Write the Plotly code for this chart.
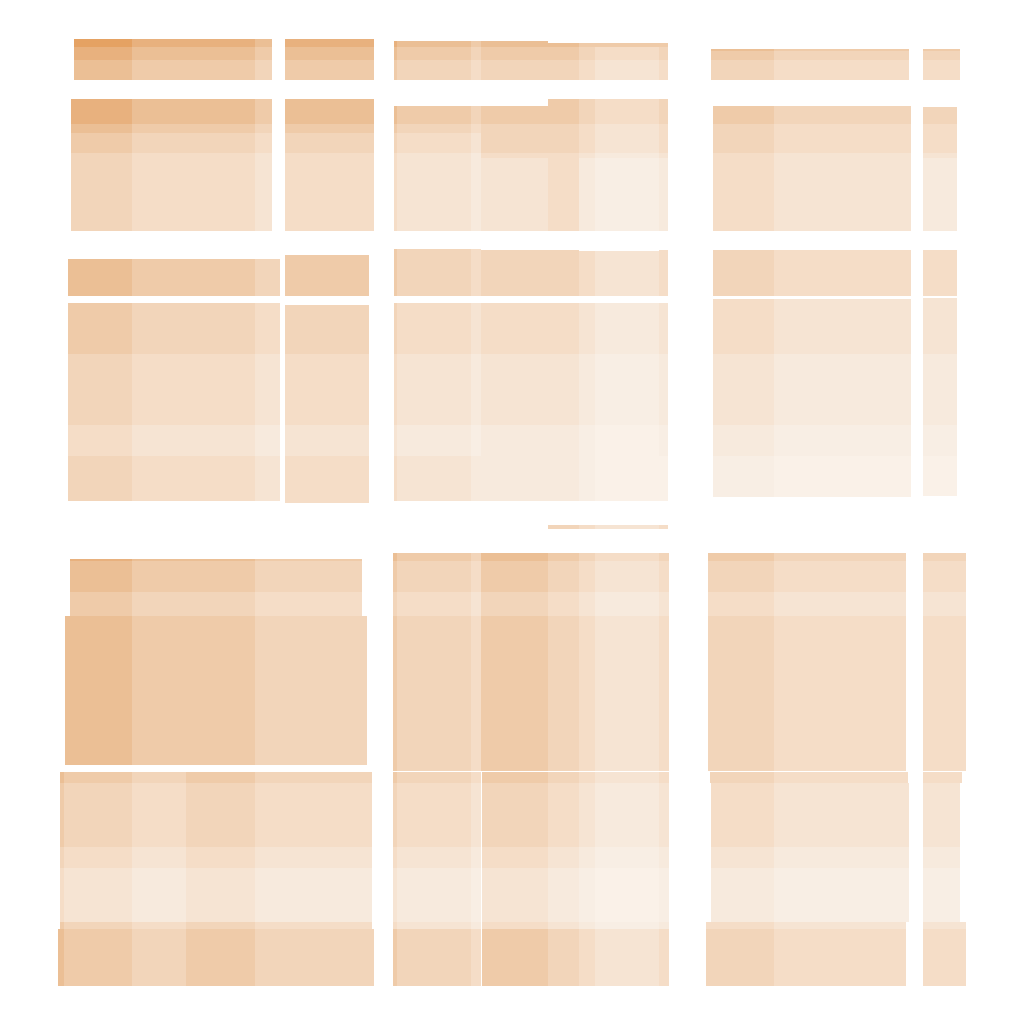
import plotly.graph_objects as go

N = None

# Shade levels (1 = lightest, 10 = darkest) and their colours
level_colors = ["#FAF1E8", "#F8EEE4", "#F7EADD", "#F6E4D3", "#F5DDC7",
                "#F2D5BA", "#EFCBA9", "#EBBF95", "#E8B17E", "#E5A263"]

# Shared column edges of the middle group
mid_x = [394, 397, 471, 481, 548, 579, 595, 659, 668]

# ---- row 1
tl1_x = [74, 132, 255, 272]; tl1_y = [39, 47, 60, 80]
tl1_z = [[10, 9, 8], [9, 8, 7], [8, 7, 6]]
tl2_x = [285, 374]; tl2_y = [39, 47, 60, 80]
tl2_z = [[9], [8], [7]]
tm_y = [41, 43, 47, 60, 80]
tm_z = [[9, 8, 7, 8, N, N, N, N],
        [9, 8, 7, 8, 8, 7, 7, 7],
        [8, 7, 6, 7, 7, 6, 5, 6],
        [7, 6, 5, 6, 6, 5, 4, 5]]
tr1_x = [711, 774, 909]; tr1_y = [49, 51, 60, 80]
tr1_z = [[8, 7], [7, 6], [6, 5]]
tr2_x = [923, 960]; tr2_y = [49, 51, 60, 80]
tr2_z = [[7], [6], [5]]

# ---- row 2
ml1_x = [71, 132, 255, 272]; ml1_y = [99, 124, 133, 153, 231]
ml1_z = [[9, 8, 7], [8, 7, 6], [7, 6, 5], [6, 5, 4]]
ml2_x = [285, 374]; ml2_y = [99, 124, 133, 153, 231]
ml2_z = [[8], [7], [6], [5]]
mm_y = [99, 106, 124, 133, 153, 158, 231]
mm_z = [[N, N, N, N, 7, 6, 5, 6],
        [8, 7, 6, 7, 7, 6, 5, 6],
        [7, 6, 5, 6, 6, 5, 4, 5],
        [6, 5, 4, 6, 6, 5, 4, 5],
        [5, 4, 3, 5, 5, 4, 3, 4],
        [5, 4, 3, 4, 5, 3, 2, 3]]
mr1_x = [713, 774, 911]; mr1_y = [106, 124, 153, 231]
mr1_z = [[7, 6], [6, 5], [5, 4]]
mr2_x = [923, 957]; mr2_y = [107, 124, 153, 158, 231]
mr2_z = [[6], [5], [4], [3]]

# ---- row 3
ll1_x = [68, 132, 255, 280]; ll1_y = [259, 296]
ll1_z = [[8, 7, 6]]
ll2_x = [285, 369]; ll2_y = [255, 296]
ll2_z = [[7]]
lm_y = [249, 250, 251, 296]
lm_z = [[7, 6, 5, N, N, N, N, N],
        [7, 6, 5, 6, 6, N, N, 5],
        [7, 6, 5, 6, 6, 5, 4, 5]]
lr1_x = [713, 774, 911]; lr1_y = [250, 296]
lr1_z = [[6, 5]]
lr2_x = [923, 957]; lr2_y = [250, 296]
lr2_z = [[5]]

# ---- row 4
ql1_x = [68, 132, 255, 280]; ql1_y = [303, 354, 425, 456, 501]
ql1_z = [[7, 6, 5], [6, 5, 4], [5, 4, 3], [6, 5, 4]]
ql2_x = [285, 369]; ql2_y = [305, 354, 425, 456, 503]
ql2_z = [[6], [5], [4], [5]]
qm_y = [303, 354, 425, 456, 501]
qm_z = [[6, 5, 4, 5, 5, 4, 3, 4],
        [5, 4, 3, 4, 4, 3, 2, 3],
        [4, 3, 2, 3, 3, 2, 1, 2],
        [5, 4, 3, 3, 3, 2, 1, 1]]
qr1_x = [713, 774, 911]; qr1_y = [299, 354, 425, 456, 497]
qr1_z = [[5, 4], [4, 3], [3, 2], [2, 1]]
qr2_x = [923, 957]; qr2_y = [298, 354, 425, 456, 496]
qr2_z = [[4], [3], [2], [1]]

# thin strip
st_x = [548, 579, 595, 659, 668]; st_y = [525, 529]
st_z = [[6, 5, 4, 5]]

# ---- row 5
hl1_x = [70, 132, 255, 362]; hl1_y = [559, 561, 592, 616]
hl1_z = [[9, 8, 7], [8, 7, 6], [7, 6, 5]]
hl2_x = [65, 132, 255, 367]; hl2_y = [616, 765]
hl2_z = [[8, 7, 6]]
hm_x = [393, 397, 471, 481, 548, 579, 595, 659, 669]
hm_y = [553, 561, 592, 616, 771]
hm_z = [[8, 7, 6, 8, 7, 6, 5, 6],
        [7, 6, 5, 7, 6, 5, 4, 5],
        [6, 5, 4, 6, 5, 4, 3, 4],
        [7, 6, 5, 7, 6, 5, 4, 5]]
hr1_x = [708, 774, 906]; hr1_y = [553, 561, 592, 616, 771]
hr1_z = [[7, 6], [6, 5], [5, 4], [6, 5]]
hr2_x = [923, 966]; hr2_y = [553, 561, 592, 616, 771]
hr2_z = [[6], [5], [4], [5]]

# ---- row 6
bl1_x = [60, 64, 132, 186, 255, 372]; bl1_y = [772, 783, 847, 868, 922, 929]
bl1_z = [[8, 7, 6, 7, 6], [7, 6, 5, 6, 5], [6, 5, 4, 5, 4],
         [5, 4, 3, 4, 3], [7, 6, 5, 6, 5]]
bl2_x = [58, 64, 132, 186, 255, 374]; bl2_y = [929, 986]
bl2_z = [[8, 7, 6, 7, 6]]
bm_x = [393, 397, 471, 481, 482, 548, 579, 595, 659, 669]
bm_y = [772, 783, 847, 868, 922, 929, 986]
bm_z = [[7, 6, 5, N, 7, 6, 5, 4, 5],
        [6, 5, 4, N, 6, 5, 4, 3, 4],
        [5, 4, 3, N, 5, 4, 3, 2, 3],
        [4, 3, 2, N, 4, 3, 2, 1, 2],
        [5, 4, 3, N, 5, 4, 3, 2, 3],
        [7, 6, 5, N, 7, 6, 5, 4, 5]]
br1_x = [710, 774, 908]; br1_y = [772, 783]
br1_z = [[6, 5]]
br2_x = [923, 962]; br2_y = [772, 783]
br2_z = [[5]]
br3_x = [711, 774, 909]; br3_y = [783, 847, 868, 922]
br3_z = [[5, 4], [4, 3], [3, 2]]
br4_x = [923, 960]; br4_y = [783, 847, 868, 922]
br4_z = [[4], [3], [2]]
br5_x = [706, 774, 906]; br5_y = [922, 929, 986]
br5_z = [[5, 4], [6, 5]]
br6_x = [923, 966]; br6_y = [922, 929, 986]
br6_z = [[4], [5]]

blocks = [
    (tl1_x, tl1_y, tl1_z), (tl2_x, tl2_y, tl2_z), (mid_x, tm_y, tm_z),
    (tr1_x, tr1_y, tr1_z), (tr2_x, tr2_y, tr2_z),
    (ml1_x, ml1_y, ml1_z), (ml2_x, ml2_y, ml2_z), (mid_x, mm_y, mm_z),
    (mr1_x, mr1_y, mr1_z), (mr2_x, mr2_y, mr2_z),
    (ll1_x, ll1_y, ll1_z), (ll2_x, ll2_y, ll2_z), (mid_x, lm_y, lm_z),
    (lr1_x, lr1_y, lr1_z), (lr2_x, lr2_y, lr2_z),
    (ql1_x, ql1_y, ql1_z), (ql2_x, ql2_y, ql2_z), (mid_x, qm_y, qm_z),
    (qr1_x, qr1_y, qr1_z), (qr2_x, qr2_y, qr2_z),
    (st_x, st_y, st_z),
    (hl1_x, hl1_y, hl1_z), (hl2_x, hl2_y, hl2_z), (hm_x, hm_y, hm_z),
    (hr1_x, hr1_y, hr1_z), (hr2_x, hr2_y, hr2_z),
    (bl1_x, bl1_y, bl1_z), (bl2_x, bl2_y, bl2_z), (bm_x, bm_y, bm_z),
    (br1_x, br1_y, br1_z), (br2_x, br2_y, br2_z), (br3_x, br3_y, br3_z),
    (br4_x, br4_y, br4_z), (br5_x, br5_y, br5_z), (br6_x, br6_y, br6_z),
]

n = len(level_colors)
colorscale = [[i / (n - 1), c] for i, c in enumerate(level_colors)]

fig = go.Figure()
for bx, by, bz in blocks:
    fig.add_trace(go.Heatmap(
        x=bx, y=by, z=bz,
        colorscale=colorscale, zmin=1, zmax=n,
        showscale=False, hoverinfo="skip", xgap=0, ygap=0,
    ))

fig.update_layout(
    width=1024, height=1024,
    margin=dict(l=0, r=0, t=0, b=0),
    paper_bgcolor="white", plot_bgcolor="white",
    showlegend=False,
    xaxis=dict(range=[0, 1024], visible=False, fixedrange=True),
    yaxis=dict(range=[1024, 0], visible=False, fixedrange=True),
)

fig.write_html("out.html")
